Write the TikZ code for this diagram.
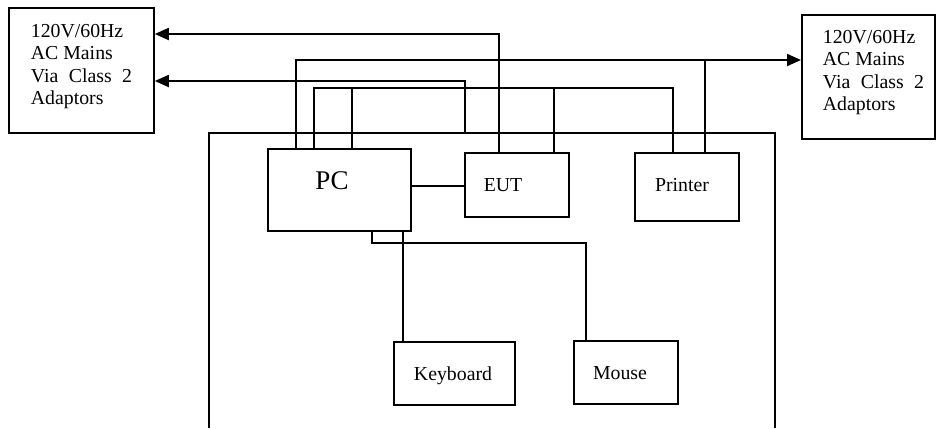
\documentclass[tikz,border=0pt]{standalone}
\usepackage{fontspec}
\setmainfont{Liberation Serif}
\usetikzlibrary{arrows.meta}
\begin{document}
\begin{tikzpicture}[x=1bp,y=-1bp, line width=1.8bp,
  box/.style={draw, rectangle, inner sep=0pt, anchor=north west},
  lbl/.style={font=\fontsize{19.8bp}{22.5bp}\selectfont, inner sep=0pt, anchor=base},
  mains/.style={font=\fontsize{19.8bp}{22.5bp}\selectfont, inner sep=0pt, anchor=base west, align=left},
  arr/.style={-{Triangle[length=14bp,width=12bp]}}]
\useasboundingbox (0,0) rectangle (936,428);
% boxes
\node[box, minimum width=145bp, minimum height=125bp] (lm) at (8,7) {};
\node[box, minimum width=133bp, minimum height=124bp] (rm) at (801,14) {};
\node[box, minimum width=143bp, minimum height=82bp] (pc) at (267,148) {};
\node[box, minimum width=104bp, minimum height=64bp] (eut) at (464,152) {};
\node[box, minimum width=104bp, minimum height=68bp] (prn) at (634,152) {};
\node[box, minimum width=121bp, minimum height=63bp] (kb) at (393,341) {};
\node[box, minimum width=104bp, minimum height=63bp] (ms) at (573,340) {};
% table outline
\coordinate (tl) at (209,133);
\coordinate (tr) at (775,133);
\draw (209,428) -- (tl) -- (tr) -- (775,428);
% labels (anchored at the baseline of the last line)
\node[mains] (lmt) at (30,104.5) {120V/60Hz\\AC Mains\\Via\hspace{10.5bp}Class\hspace{10.5bp}2\\Adaptors};
\node[mains] (rmt) at (822,110.5) {120V/60Hz\\AC Mains\\Via\hspace{10.5bp}Class\hspace{10.5bp}2\\Adaptors};
\node[lbl, font=\fontsize{27bp}{30bp}\selectfont] (pct) at (332,189) {PC};
\node[lbl] (eutt) at (503,191) {EUT};
\node[lbl] (prnt) at (682,191) {Printer};
\node[lbl] (kbt) at (453,380) {Keyboard};
\node[lbl] (mst) at (620,379) {Mouse};
% junction coordinates
\coordinate (y34) at (499,34);
\coordinate (y60) at (296,60);
\coordinate (p60) at (705,60);
\coordinate (y81) at (465,81);
\coordinate (a88) at (314,88);
\coordinate (b88) at (352,88);
\coordinate (c88) at (554,88);
\coordinate (d88) at (673,88);
\coordinate (kx) at (403,0);
\coordinate (m1) at (372,243);
\coordinate (m2) at (586,243);
% connectors
\draw[arr] (eut.north -| y34) -- (y34) -- (y34 -| lm.east);
\draw[arr] (pc.north -| y60) -- (y60) -- (y60 -| rm.west);
\draw (prn.north -| p60) -- (p60);
\draw[arr] (tl -| y81) -- (y81) -- (y81 -| lm.east);
\draw (pc.north -| a88) -- (a88) -- (d88) -- (prn.north -| d88);
\draw (pc.north -| b88) -- (b88);
\draw (eut.north -| c88) -- (c88);
\draw (pc.east |- 0,186) -- (eut.west |- 0,186);
\draw (pc.south -| kx) -- (kb.north -| kx);
\draw (pc.south -| m1) -- (m1) -- (m2) -- (ms.north -| m2);
\end{tikzpicture}
\end{document}
